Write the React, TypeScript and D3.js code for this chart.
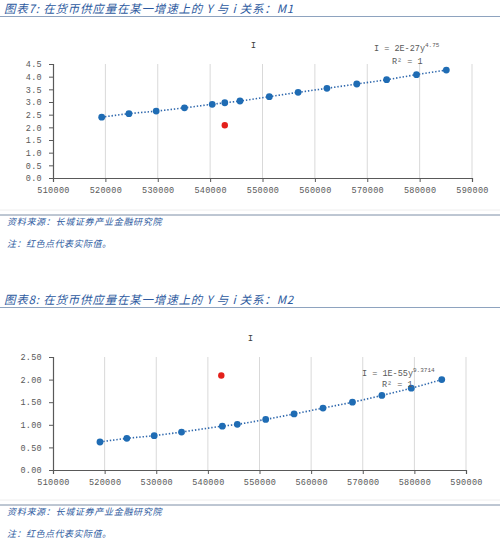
import React, { useRef, useEffect } from 'react';
import * as d3 from 'd3';

// 图表7 (M1) values
const m1Supply = [519300, 524500, 529700, 535100, 540400, 542800, 545700, 551300, 556800, 562300, 568000, 573700, 579400, 585100];
const m1Rate = [2.40, 2.54, 2.64, 2.77, 2.91, 2.97, 3.04, 3.21, 3.38, 3.54, 3.71, 3.88, 4.08, 4.26];
const m1ActualSupply = [542800];
const m1ActualRate = [2.08];

// 图表8 (M2) values
const m2Supply = [519100, 524300, 529600, 534900, 542800, 545700, 551200, 556700, 562300, 568000, 573700, 579400, 585300];
const m2Rate = [0.62, 0.70, 0.76, 0.84, 0.97, 1.01, 1.12, 1.24, 1.37, 1.50, 1.65, 1.81, 2.00];
const m2ActualSupply = [542600];
const m2ActualRate = [2.09];

const xTicks = [510000, 520000, 530000, 540000, 550000, 560000, 570000, 580000, 590000];
const m1YTicks = [0, 0.5, 1, 1.5, 2, 2.5, 3, 3.5, 4, 4.5];
const m2YTicks = [0, 0.5, 1, 1.5, 2, 2.5];

const BLUE = '#1f6cb4';
const RED = '#e3201b';
const AXIS = '#595959';
const HEAD = '#2d5aa0';
const MONO = '"Liberation Mono", "DejaVu Sans Mono", monospace';
const CJK = '"Noto Sans CJK SC", "Noto Sans", sans-serif';

interface PanelSpec {
  top: number;
  heading: string;
  supply: number[];
  rate: number[];
  actualSupply: number[];
  actualRate: number[];
  yTicks: number[];
  yFormat: string;
  plot: { left: number; right: number; top: number; bottom: number };
  eq: { x: number; y: number; base: string; exp: string };
  r2: { x: number; y: number };
  footY: number;
}

const panels: PanelSpec[] = [
  {
    top: 0,
    heading: '图表7:  在货币供应量在某一增速上的 Y 与 i 关系：M1',
    supply: m1Supply,
    rate: m1Rate,
    actualSupply: m1ActualSupply,
    actualRate: m1ActualRate,
    yTicks: m1YTicks,
    yFormat: '.1f',
    plot: { left: 53, right: 472, top: 64, bottom: 178 },
    eq: { x: 374, y: 51, base: 'I = 2E-27y', exp: '4.75' },
    r2: { x: 392, y: 64 },
    footY: 215,
  },
  {
    top: 291,
    heading: '图表8:  在货币供应量在某一增速上的 Y 与 i 关系：M2',
    supply: m2Supply,
    rate: m2Rate,
    actualSupply: m2ActualSupply,
    actualRate: m2ActualRate,
    yTicks: m2YTicks,
    yFormat: '.2f',
    plot: { left: 53, right: 466, top: 357, bottom: 470 },
    eq: { x: 362, y: 376, base: 'I = 1E-55y', exp: '9.3714' },
    r2: { x: 382, y: 387 },
    footY: 505,
  },
];

const App = () => {
  const svgRef = useRef(null);
  const width = 500;
  const height = 540;

  useEffect(() => {
    const svg = d3.select(svgRef.current)
      .attr('width', width)
      .attr('height', height);
    svg.selectAll('*').remove();

    panels.forEach(p => {
      const g = svg.append('g');

      // heading + rule
      g.append('text')
        .attr('x', 4)
        .attr('y', p.top + 13)
        .attr('font-family', CJK)
        .attr('font-size', 11.5)
        .attr('font-style', 'italic')
        .attr('letter-spacing', 0.8)
        .attr('fill', HEAD)
        .text(p.heading);
      g.append('line')
        .attr('x1', 0).attr('x2', width)
        .attr('y1', p.top + 16.5).attr('y2', p.top + 16.5)
        .attr('stroke', '#8ea3bf')
        .attr('stroke-width', 1);

      const x = d3.scaleLinear()
        .domain([xTicks[0], xTicks[xTicks.length - 1]])
        .range([p.plot.left, p.plot.right]);
      const y = d3.scaleLinear()
        .domain([0, p.yTicks[p.yTicks.length - 1]])
        .range([p.plot.bottom, p.plot.top]);

      // chart title
      g.append('text')
        .attr('x', (p.plot.left + p.plot.right) / 2 - 9)
        .attr('y', p.plot.top - 16)
        .attr('text-anchor', 'middle')
        .attr('font-family', MONO)
        .attr('font-size', 9)
        .attr('fill', '#404040')
        .text('I');

      // vertical gridlines
      g.append('g')
        .selectAll('line')
        .data(xTicks.slice(1))
        .enter()
        .append('line')
        .attr('x1', d => x(d)).attr('x2', d => x(d))
        .attr('y1', p.plot.top).attr('y2', p.plot.bottom)
        .attr('stroke', '#d9d9d9')
        .attr('stroke-width', 1);

      // axes
      const xAxis = g.append('g')
        .attr('transform', `translate(0,${p.plot.bottom})`)
        .call(d3.axisBottom(x).tickValues(xTicks).tickFormat(d3.format('d')).tickSize(4).tickPadding(5));
      const yAxis = g.append('g')
        .attr('transform', `translate(${p.plot.left},0)`)
        .call(d3.axisLeft(y).tickValues(p.yTicks).tickFormat(d3.format(p.yFormat)).tickSize(4).tickPadding(7));
      [xAxis, yAxis].forEach(a => {
        a.select('.domain').attr('stroke', AXIS).attr('stroke-width', 1.2);
        a.selectAll('.tick line').attr('stroke', AXIS);
        a.selectAll('.tick text')
          .attr('fill', AXIS)
          .attr('font-family', MONO)
          .attr('font-size', 8.5)
          .attr('letter-spacing', 0.3);
      });

      // dotted power trendline through fitted points
      const pts = p.supply.map((s, i) => [s, p.rate[i]] as [number, number]);
      const line = d3.line<[number, number]>()
        .x(d => x(d[0]))
        .y(d => y(d[1]))
        .curve(d3.curveMonotoneX);
      g.append('path')
        .attr('d', line(pts))
        .attr('fill', 'none')
        .attr('stroke', '#2f68ad')
        .attr('stroke-width', 1.6)
        .attr('stroke-dasharray', '1.4 1.9');

      g.append('g')
        .selectAll('circle')
        .data(pts)
        .enter()
        .append('circle')
        .attr('cx', d => x(d[0]))
        .attr('cy', d => y(d[1]))
        .attr('r', 3.4)
        .attr('fill', BLUE);

      g.append('g')
        .selectAll('circle')
        .data(p.actualSupply.map((s, i) => [s, p.actualRate[i]]))
        .enter()
        .append('circle')
        .attr('cx', d => x(d[0]))
        .attr('cy', d => y(d[1]))
        .attr('r', 3.2)
        .attr('fill', RED);

      // trendline label
      const eq = g.append('text')
        .attr('x', p.eq.x)
        .attr('y', p.eq.y)
        .attr('font-family', MONO)
        .attr('font-size', 8.5)
        .attr('fill', AXIS);
      eq.append('tspan').text(p.eq.base);
      eq.append('tspan')
        .attr('dy', -4)
        .attr('font-size', 6)
        .text(p.eq.exp);
      g.append('text')
        .attr('x', p.r2.x)
        .attr('y', p.r2.y)
        .attr('font-family', MONO)
        .attr('font-size', 8.5)
        .attr('fill', AXIS)
        .text('R² = 1');

      // footer
      g.append('line')
        .attr('x1', 0).attr('x2', width)
        .attr('y1', p.footY - 5).attr('y2', p.footY - 5)
        .attr('stroke', '#eeeeee');
      g.append('line')
        .attr('x1', 0).attr('x2', width)
        .attr('y1', p.footY).attr('y2', p.footY)
        .attr('stroke', '#7d8ea6')
        .attr('stroke-width', 1);
      g.append('text')
        .attr('x', 7)
        .attr('y', p.footY + 10)
        .attr('font-family', CJK)
        .attr('font-size', 9)
        .attr('font-style', 'italic')
        .attr('letter-spacing', 0.7)
        .attr('fill', HEAD)
        .text('资料来源：长城证券产业金融研究院');
      g.append('text')
        .attr('x', 7)
        .attr('y', p.footY + 32)
        .attr('font-family', CJK)
        .attr('font-size', 9)
        .attr('font-style', 'italic')
        .attr('letter-spacing', 0.5)
        .attr('fill', HEAD)
        .text('注：红色点代表实际值。');
    });
  }, []);

  return (
    <div style={{ position: 'absolute', left: 0, top: 0, background: '#fff' }}>
      <svg ref={svgRef} style={{ display: 'block' }}></svg>
    </div>
  );
};

export default App;
